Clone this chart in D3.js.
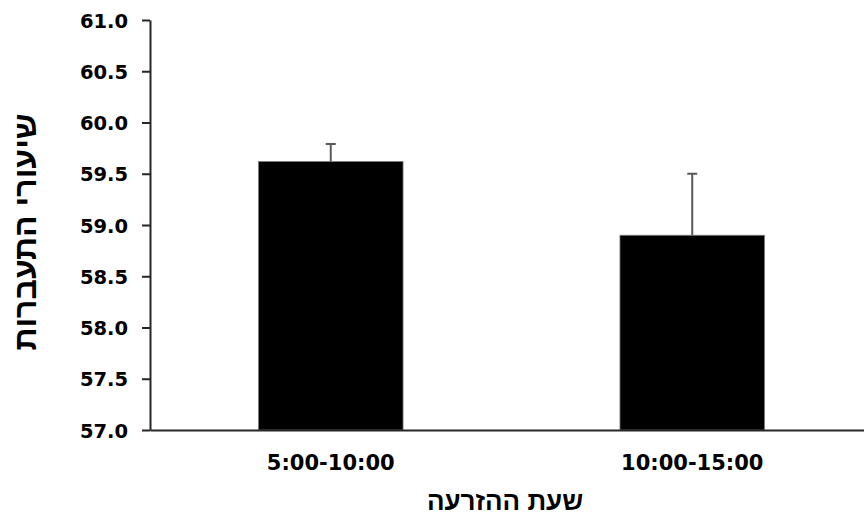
<!DOCTYPE html>
<html lang="he">
<head>
  <meta charset="utf-8" />
  <title>שיעורי התעברות</title>
  <script src="https://cdn.jsdelivr.net/npm/d3@7"></script>
  <style>
    body { margin:0; background:#fff; }
    svg text { font-family:"DejaVu Sans", Verdana, sans-serif; font-weight:700; fill:#000; }
    svg text.title { font-family:"Liberation Sans", Arial, sans-serif; }
    .axis path, .axis line { stroke:#262626; stroke-width:2; }
  </style>
</head>
<body>
<div id="chart"></div>
<script>
// --- data ------------------------------------------------------------------
const categories = ["5:00-10:00", "10:00-15:00"];
const values     = [59.62, 58.9];
const errors     = [0.17, 0.6];          // upper error bar length
const yTicks     = [57, 57.5, 58, 58.5, 59, 59.5, 60, 60.5, 61];
const xTitle     = "שעת ההזרעה";
const yTitle     = "שיעורי התעברות";

// --- chart -----------------------------------------------------------------
const W = 864, H = 518;
const margin = {top:20, right:-9, bottom:88, left:150};
const innerW = W - margin.left - margin.right;
const innerH = H - margin.top - margin.bottom;

const svg = d3.select("#chart").append("svg")
  .attr("width", W).attr("height", H);

const g = svg.append("g")
  .attr("transform", `translate(${margin.left},${margin.top})`);

const x = d3.scaleBand().domain(categories).range([0, innerW])
  .paddingInner(0.6).paddingOuter(0.3);
const y = d3.scaleLinear().domain([57, 61]).range([innerH, 0]);

// y axis
const yAxis = g.append("g").attr("class", "axis")
  .call(d3.axisLeft(y).tickValues(yTicks).tickFormat(d3.format(".1f")).tickSize(8).tickSizeOuter(0));
yAxis.selectAll("text").attr("font-size", 19.5).attr("x", -22).attr("dy", "0.36em");

// bars
g.selectAll("rect.bar").data(values).join("rect")
  .attr("class", "bar")
  .attr("x", (d, i) => x(categories[i]))
  .attr("width", x.bandwidth())
  .attr("y", d => y(d))
  .attr("height", d => innerH - y(d))
  .attr("fill", "#000")
  .attr("stroke", "#7f7f7f").attr("stroke-width", 0.8);

// error bars (upper only)
const eb = g.selectAll("g.err").data(values).join("g").attr("class", "err")
  .attr("stroke", "#595959").attr("stroke-width", 2);
eb.append("line")
  .attr("x1", (d, i) => x(categories[i]) + x.bandwidth() / 2)
  .attr("x2", (d, i) => x(categories[i]) + x.bandwidth() / 2)
  .attr("y1", d => y(d))
  .attr("y2", (d, i) => y(d + errors[i]));
eb.append("line")
  .attr("x1", (d, i) => x(categories[i]) + x.bandwidth() / 2 - 5)
  .attr("x2", (d, i) => x(categories[i]) + x.bandwidth() / 2 + 5)
  .attr("y1", (d, i) => y(d + errors[i]))
  .attr("y2", (d, i) => y(d + errors[i]));

// x axis
const xAxis = g.append("g").attr("class", "axis")
  .attr("transform", `translate(0,${innerH})`)
  .call(d3.axisBottom(x).tickSize(0).tickSizeOuter(0));
xAxis.selectAll("text").attr("font-size", 21).attr("dy", "1.78em");

// titles
svg.append("text").attr("class", "title")
  .attr("x", 505).attr("y", 510)
  .attr("text-anchor", "middle")
  .attr("font-size", 26)
  .attr("direction", "rtl")
  .text(xTitle);

svg.append("text").attr("class", "title")
  .attr("transform", `translate(36,232) rotate(-90)`)
  .attr("text-anchor", "middle")
  .attr("font-size", 32)
  .attr("direction", "rtl")
  .text(yTitle);
</script>
</body>
</html>
